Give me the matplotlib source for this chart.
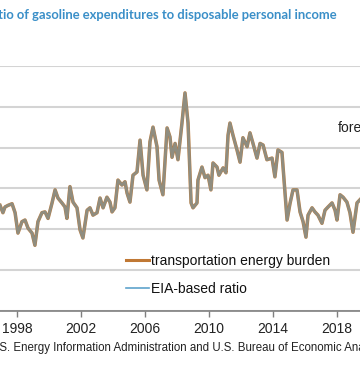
import matplotlib
matplotlib.use("Agg")
import matplotlib.pyplot as plt
from matplotlib.lines import Line2D

plt.rcParams['font.family'] = ['Liberation Sans', 'DejaVu Sans']

title = "Ratio of gasoline expenditures to disposable personal income"
source = "U.S. Energy Information Administration and U.S. Bureau of Economic Analysis"
series_labels = ["transportation energy burden", "EIA-based ratio"]
tick_years = [1998, 2002, 2006, 2010, 2014, 2018]
grid_values = [1.5, 2.0, 2.5, 3.0, 3.5, 4.0, 4.5]

years = [1996.94, 1997.12, 1997.25, 1997.44, 1997.69, 1997.88, 1998.06, 1998.31, 1998.50, 1998.69,
         1998.94, 1999.12, 1999.31, 1999.56, 1999.75, 1999.94, 2000.19, 2000.38, 2000.56, 2000.81,
         2001.00, 2001.12, 2001.31, 2001.50, 2001.75, 2001.94, 2002.12, 2002.38, 2002.56, 2002.75,
         2003.00, 2003.19, 2003.38, 2003.62, 2003.81, 2003.94, 2004.12, 2004.31, 2004.56, 2004.75,
         2004.88, 2005.06, 2005.25, 2005.50, 2005.69, 2005.88, 2006.12, 2006.31, 2006.50, 2006.75,
         2006.88, 2007.12, 2007.38, 2007.56, 2007.69, 2007.88, 2008.06, 2008.31, 2008.50, 2008.69,
         2008.88, 2009.00, 2009.25, 2009.31, 2009.56, 2009.75, 2009.94, 2010.12, 2010.25, 2010.50,
         2010.62, 2010.88, 2011.06, 2011.19, 2011.31, 2011.50, 2011.75, 2011.94, 2012.12, 2012.38,
         2012.56, 2012.75, 2013.00, 2013.19, 2013.38, 2013.62, 2013.94, 2014.12, 2014.31, 2014.56,
         2014.69, 2014.88, 2015.06, 2015.25, 2015.50, 2015.69, 2015.88, 2016.06, 2016.19, 2016.44,
         2016.62, 2016.81, 2017.06, 2017.25, 2017.44, 2017.69, 2017.88, 2018.00, 2018.19, 2018.38,
         2018.62, 2018.81, 2019.00, 2019.25, 2019.44]

burden = [2.79, 2.70, 2.77, 2.79, 2.81, 2.70, 2.45, 2.59, 2.61, 2.51,
          2.45, 2.30, 2.59, 2.70, 2.71, 2.63, 2.82, 2.98, 2.88, 2.82,
          2.77, 2.63, 3.02, 2.83, 2.76, 2.49, 2.39, 2.73, 2.76, 2.67,
          2.70, 2.88, 2.76, 2.89, 2.83, 2.71, 2.76, 3.10, 3.04, 3.08,
          2.94, 2.83, 3.16, 3.20, 3.59, 3.16, 2.98, 3.57, 3.75, 3.51,
          3.10, 2.92, 3.74, 3.63, 3.38, 3.55, 3.35, 3.80, 4.17, 3.80,
          2.82, 2.76, 2.82, 3.10, 3.26, 3.13, 3.16, 2.98, 3.31, 3.26,
          3.16, 3.25, 3.19, 3.65, 3.80, 3.65, 3.47, 3.32, 3.62, 3.51,
          3.68, 3.55, 3.37, 3.55, 3.53, 3.35, 3.37, 3.14, 3.47, 3.44,
          3.10, 2.61, 2.81, 2.98, 2.98, 2.71, 2.59, 2.40, 2.67, 2.76,
          2.71, 2.67, 2.57, 2.73, 2.77, 2.82, 2.73, 2.61, 2.92, 2.89,
          2.83, 2.70, 2.46, 2.82, 2.86]

eia_ratio = [2.79, 2.70, 2.77, 2.79, 2.81, 2.70, 2.45, 2.59, 2.61, 2.51,
             2.45, 2.30, 2.59, 2.70, 2.71, 2.63, 2.82, 2.98, 2.88, 2.82,
             2.77, 2.63, 3.02, 2.83, 2.76, 2.49, 2.39, 2.73, 2.76, 2.67,
             2.70, 2.88, 2.76, 2.89, 2.83, 2.71, 2.76, 3.10, 3.04, 3.08,
             2.94, 2.83, 3.16, 3.20, 3.59, 3.16, 2.98, 3.57, 3.75, 3.51,
             3.10, 2.92, 3.74, 3.63, 3.38, 3.55, 3.35, 3.80, 4.17, 3.80,
             2.82, 2.76, 2.82, 3.10, 3.26, 3.13, 3.16, 2.98, 3.31, 3.26,
             3.16, 3.25, 3.19, 3.65, 3.80, 3.65, 3.47, 3.32, 3.62, 3.51,
             3.68, 3.55, 3.37, 3.55, 3.53, 3.35, 3.37, 3.14, 3.47, 3.44,
             3.10, 2.61, 2.81, 2.98, 2.98, 2.71, 2.59, 2.40, 2.67, 2.76,
             2.71, 2.67, 2.57, 2.73, 2.77, 2.82, 2.73, 2.61, 2.92, 2.89,
             2.83, 2.70, 2.46, 2.82, 2.86]

W, H = 360, 367
fig = plt.figure(figsize=(W / 100, H / 100), dpi=100)
ax = fig.add_axes([0, (H - 310.5) / H, 1, (310.5 - 66) / H])

orange = '#C07834'
blue = '#5FA3CC'
ax.plot(years, burden, color=orange, lw=2.5, solid_joinstyle='round', zorder=3)
ax.plot(years, eia_ratio, color=blue, lw=2.0, alpha=0.5, solid_joinstyle='round', zorder=4)

ax.set_xlim(1996.9375, 2019.4375)
ax.set_ylim(grid_values[0], grid_values[-1])
ax.set_yticks(grid_values)
ax.yaxis.grid(True, color='#D4D4D4', lw=1.5)
ax.set_axisbelow(True)
ax.tick_params(axis='y', left=False, labelleft=False)
ax.set_xticks(tick_years)
ax.set_xticklabels([str(y) for y in tick_years], fontsize=10, color='#222222')
ax.tick_params(axis='x', direction='out', length=4, width=1, color='#7F7F7F', pad=4)
for s in ['left', 'right', 'top']:
    ax.spines[s].set_visible(False)
ax.spines['bottom'].set_color('#7F7F7F')
ax.spines['bottom'].set_linewidth(1.2)

ax.text(2018.06, 3.74, "forecast", fontsize=10, color='#222222', ha='left', va='center')

handles = [Line2D([], [], color=orange, lw=2.2), Line2D([], [], color=blue, lw=1.2)]
leg = fig.legend(handles, series_labels, loc='upper left',
                 bbox_to_anchor=(126 / W, (H - 254) / H), frameon=False,
                 fontsize=10, handlelength=1.65, handletextpad=0.15,
                 labelspacing=1.0, borderpad=0, borderaxespad=0)
for t in leg.get_texts():
    t.set_color('#111111')

fig.text(337 / W, (H - 15) / H, title, fontsize=9.4, fontweight='bold',
         family=['Lato', 'DejaVu Sans'], color='#3A8FC8', ha='right', va='center')
fig.text(-11.5 / W, (H - 348) / H, source, fontsize=8.3, color='#222222',
         ha='left', va='center')

fig.savefig('out.png', dpi=100)
